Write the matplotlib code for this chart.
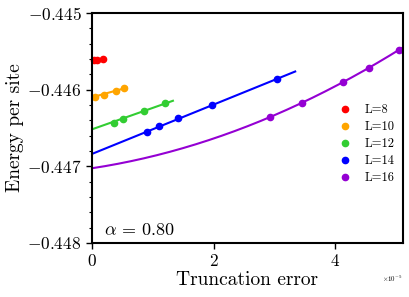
import matplotlib
matplotlib.use('Agg')
import matplotlib.pyplot as plt
import numpy as np

plt.rcParams['font.family'] = 'serif'
plt.rcParams['font.serif'] = ['cmr10']
plt.rcParams['mathtext.fontset'] = 'cm'
plt.rcParams['axes.formatter.use_mathtext'] = True

# truncation error in units of 1e-5, energy per site
labels = ['L=8', 'L=10', 'L=12', 'L=14', 'L=16']
colors = ['red', 'orange', 'limegreen', 'blue', 'darkviolet']

x8 = [0.04, 0.08, 0.18]
e8 = [-0.44561, -0.44561, -0.44560]
x10 = [0.05, 0.19, 0.39, 0.53]
e10 = [-0.446091, -0.446069, -0.446017, -0.445982]
x12 = [0.36, 0.51, 0.86, 1.20]
e12 = [-0.44643, -0.446382, -0.446282, -0.446178]
x14 = [0.90, 1.10, 1.42, 1.97, 3.04]
e14 = [-0.446547, -0.446473, -0.446369, -0.446200, -0.445860]
x16 = [2.93, 3.45, 4.12, 4.55, 5.05]
e16 = [-0.446356, -0.446174, -0.445900, -0.445717, -0.445478]

xs = [x8, x10, x12, x14, x16]
es = [e8, e10, e12, e14, e16]

# fit curves: E = c0 + c1*x + c2*x^2, drawn on [0, xmax]
fit_c0 = [None, -0.446099, -0.446517, -0.446838, -0.447025]
fit_c1 = [None, 0.00022, 0.00028, 0.000322, 0.0001205]
fit_c2 = [None, 0.0, 0.0, 0.0, 0.0000368]
fit_xmax = [None, 0.57, 1.33, 3.34, 5.3]

fig = plt.figure(figsize=(4.09, 2.97), dpi=100)
ax = fig.add_axes([0.225, 0.182, 0.76, 0.774])

for i in range(5):
    if fit_c0[i] is not None:
        xf = np.linspace(0, fit_xmax[i], 200)
        ef = fit_c0[i] + fit_c1[i] * xf + fit_c2[i] * xf ** 2
        ax.plot(xf * 1e-5, ef, color=colors[i], lw=1.5)
    ax.plot(np.array(xs[i]) * 1e-5, es[i], 'o', color=colors[i], ms=4.5,
            label=labels[i], clip_on=False)

ax.set_xlim(0, 5.11e-5)
ax.set_ylim(-0.448, -0.445)
ax.set_yticks([-0.448, -0.447, -0.446, -0.445])
ax.set_xticks([0, 2e-5, 4e-5])
ax.yaxis.set_minor_locator(matplotlib.ticker.AutoMinorLocator(5))
ax.tick_params(axis='both', labelsize=12.5, width=1, length=4)
ax.tick_params(axis='y', which='minor', length=2, width=0.8)
ax.xaxis.get_offset_text().set_fontsize(5)
for s in ax.spines.values():
    s.set_linewidth(1.5)

ax.set_xlabel('Truncation error', fontsize=14, labelpad=1)
ax.set_ylabel('Energy per site', fontsize=14, labelpad=2)
ax.text(0.04, 0.035, r'$\alpha\,=\,0.80$', transform=ax.transAxes, fontsize=13)

ax.legend(loc='center right', bbox_to_anchor=(1.01, 0.43), frameon=False,
          fontsize=9, handletextpad=1.1, labelspacing=0.38, handlelength=1.0)

plt.savefig('out.png', dpi=100)
